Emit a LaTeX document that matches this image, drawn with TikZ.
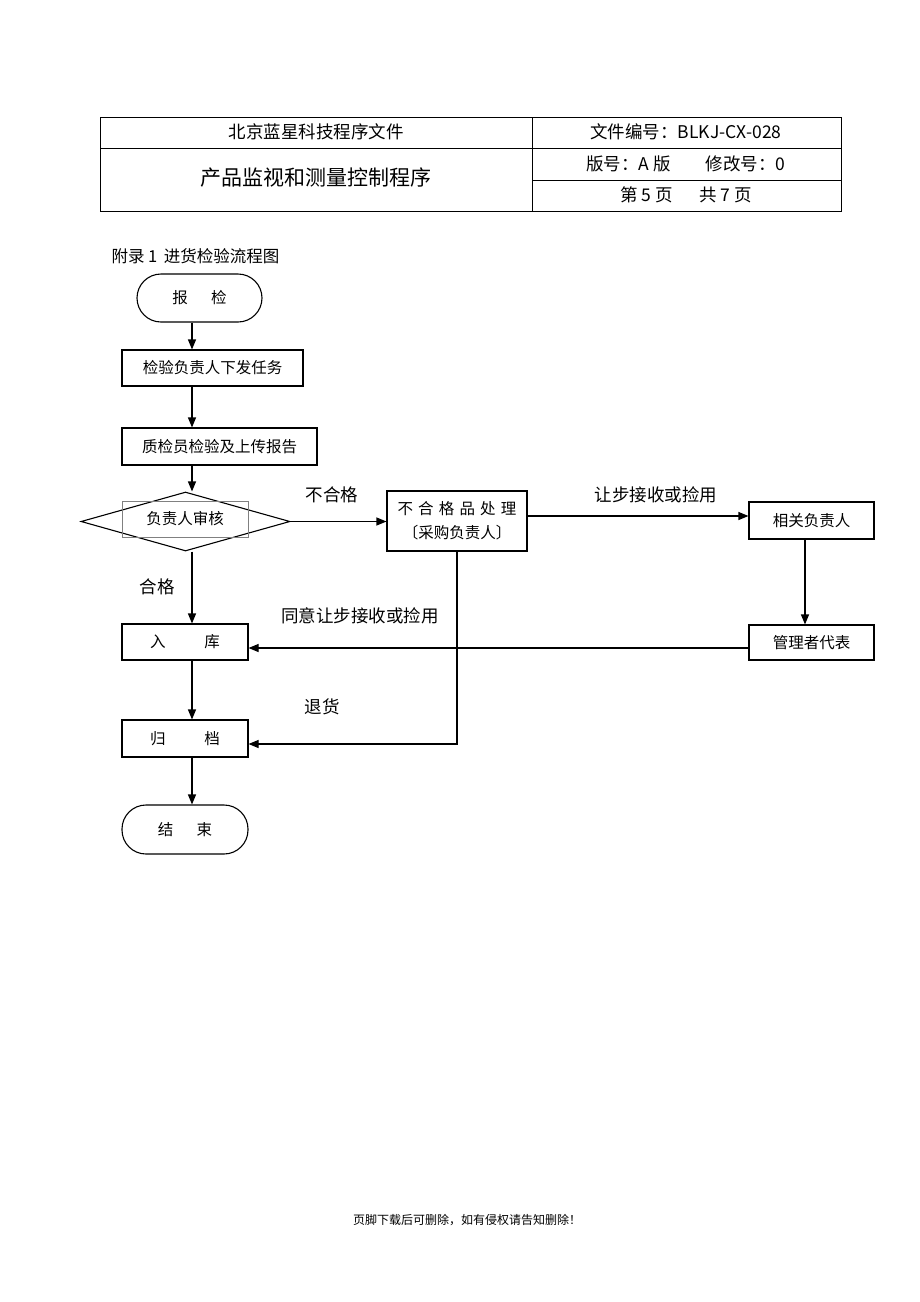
\documentclass[tikz,border=0pt]{standalone}
\usepackage{fontspec}
\setmainfont{Liberation Serif}
\newfontfamily\cjk{Noto Sans CJK SC}
\usetikzlibrary{arrows.meta,shapes.geometric}
\tikzset{
  box/.style={draw, line width=1.1pt, inner sep=0pt, font=\cjk\fontsize{15.5}{17}\selectfont},
  term/.style={draw, line width=1.1pt, rounded corners=24pt, inner sep=0pt, font=\cjk\fontsize{15.5}{17}\selectfont},
  lbl/.style={font=\cjk\fontsize{17.5}{19}\selectfont},
  hdr/.style={font=\cjk\fontsize{17.5}{19}\selectfont},
  flow/.style={line width=1.1pt, -{Triangle[length=10pt,width=8pt]}},
  plain/.style={line width=1.1pt}
}
\begin{document}
\begin{tikzpicture}[x=1pt,y=-1pt]
\useasboundingbox (0,0) rectangle (920,1302);
% header table
\draw[line width=0.8pt] (100,117) rectangle (841,211);
\draw[line width=0.8pt] (100,148) -- (841,148);
\draw[line width=0.8pt] (532,117) -- (532,211);
\draw[line width=0.8pt] (532,180) -- (841,180);
\node[hdr] (h1) at (316,132) {北京蓝星科技程序文件};
\node[hdr] (h2) at (686,132) {文件编号：BLKJ-CX-028};
\node[font=\cjk\fontsize{21}{23}\selectfont] (h3) at (316,178) {产品监视和测量控制程序};
\node[hdr] (h4) at (686,164) {版号：A 版\hspace{2em}修改号：0};
\node[hdr] (h5) at (686,195) {第 5 页\hspace{1.5em}共 7 页};
% title
\node[font=\cjk\fontsize{16.5}{18}\selectfont, anchor=west] (title) at (108,256) {附录 1\, 进货检验流程图};
% nodes
\node[term, minimum width=125pt, minimum height=48pt] (start) at (199.5,298) {报\hspace{1.5em}检};
\node[box, minimum width=181pt, minimum height=36pt] (task) at (212.5,368) {检验负责人下发任务};
\node[box, minimum width=195pt, minimum height=37pt] (insp) at (219.5,446.5) {质检员检验及上传报告};
\node[draw, line width=1.1pt, diamond, aspect=3.54, inner sep=0pt, minimum width=209pt, minimum height=59pt] (rev) at (185.5,521.5) {};
\node[draw=gray, line width=0.5pt, minimum width=126pt, minimum height=36pt, inner sep=0pt, font=\cjk\fontsize{15.5}{17}\selectfont] (revt) at (185,519) {负责人审核};
\node[box, minimum width=140pt, minimum height=60pt, align=center, font=\cjk\fontsize{15.5}{24}\selectfont] (ng) at (457,521) {不\,\,合\,\,格\,\,品\,\,处\,\,理\\〔采购负责人〕};
\node[box, minimum width=125pt, minimum height=37pt] (rel) at (811.5,520.5) {相关负责人};
\node[box, minimum width=125pt, minimum height=35pt] (mgr) at (811.5,642.5) {管理者代表};
\node[box, minimum width=126pt, minimum height=36pt] (store) at (185,642) {入\hspace{2.5em}库};
\node[box, minimum width=126pt, minimum height=37pt] (arch) at (185,738.5) {归\hspace{2.5em}档};
\node[term, minimum width=126pt, minimum height=49pt] (end) at (185,829.5) {结\hspace{1.5em}束};
% connectors
\draw[flow] (start.south -| 192,0) -- (task.north -| 192,0);
\draw[flow] (task.south -| 192,0) -- (insp.north -| 192,0);
\draw[flow] (insp.south -| 192,0) -- (rev.north -| 192,0);
\draw[flow] (rev.east) -- (ng.west |- rev.east);
\node[lbl] (l1) at (332,495) {不合格};
\draw[flow] (ng.east |- 0,516) -- (rel.west |- 0,516);
\node[lbl] (l2) at (656,495) {让步接收或捡用};
\draw[flow] (rel.south -| 805,0) -- (mgr.north -| 805,0);
\draw[flow] (mgr.west |- 0,648) -- (store.east |- 0,648);
\node[lbl] (l3) at (360,616) {同意让步接收或捡用};
\draw[flow] (rev.south -| 192,0) -- (store.north -| 192,0);
\node[lbl] (l4) at (157,587) {合格};
\draw[flow] (store.south -| 192,0) -- (arch.north -| 192,0);
\draw[flow] (ng.south) -- (ng.south |- 0,744) -- (arch.east |- 0,744);
\node[lbl] (l5) at (322,707) {退货};
\draw[flow] (arch.south -| 192,0) -- (end.north -| 192,0);
% footer
\node[font=\cjk\fontsize{12}{14}\selectfont] (foot) at (467,1220) {页脚下载后可删除，如有侵权请告知删除！};
\end{tikzpicture}
\end{document}
